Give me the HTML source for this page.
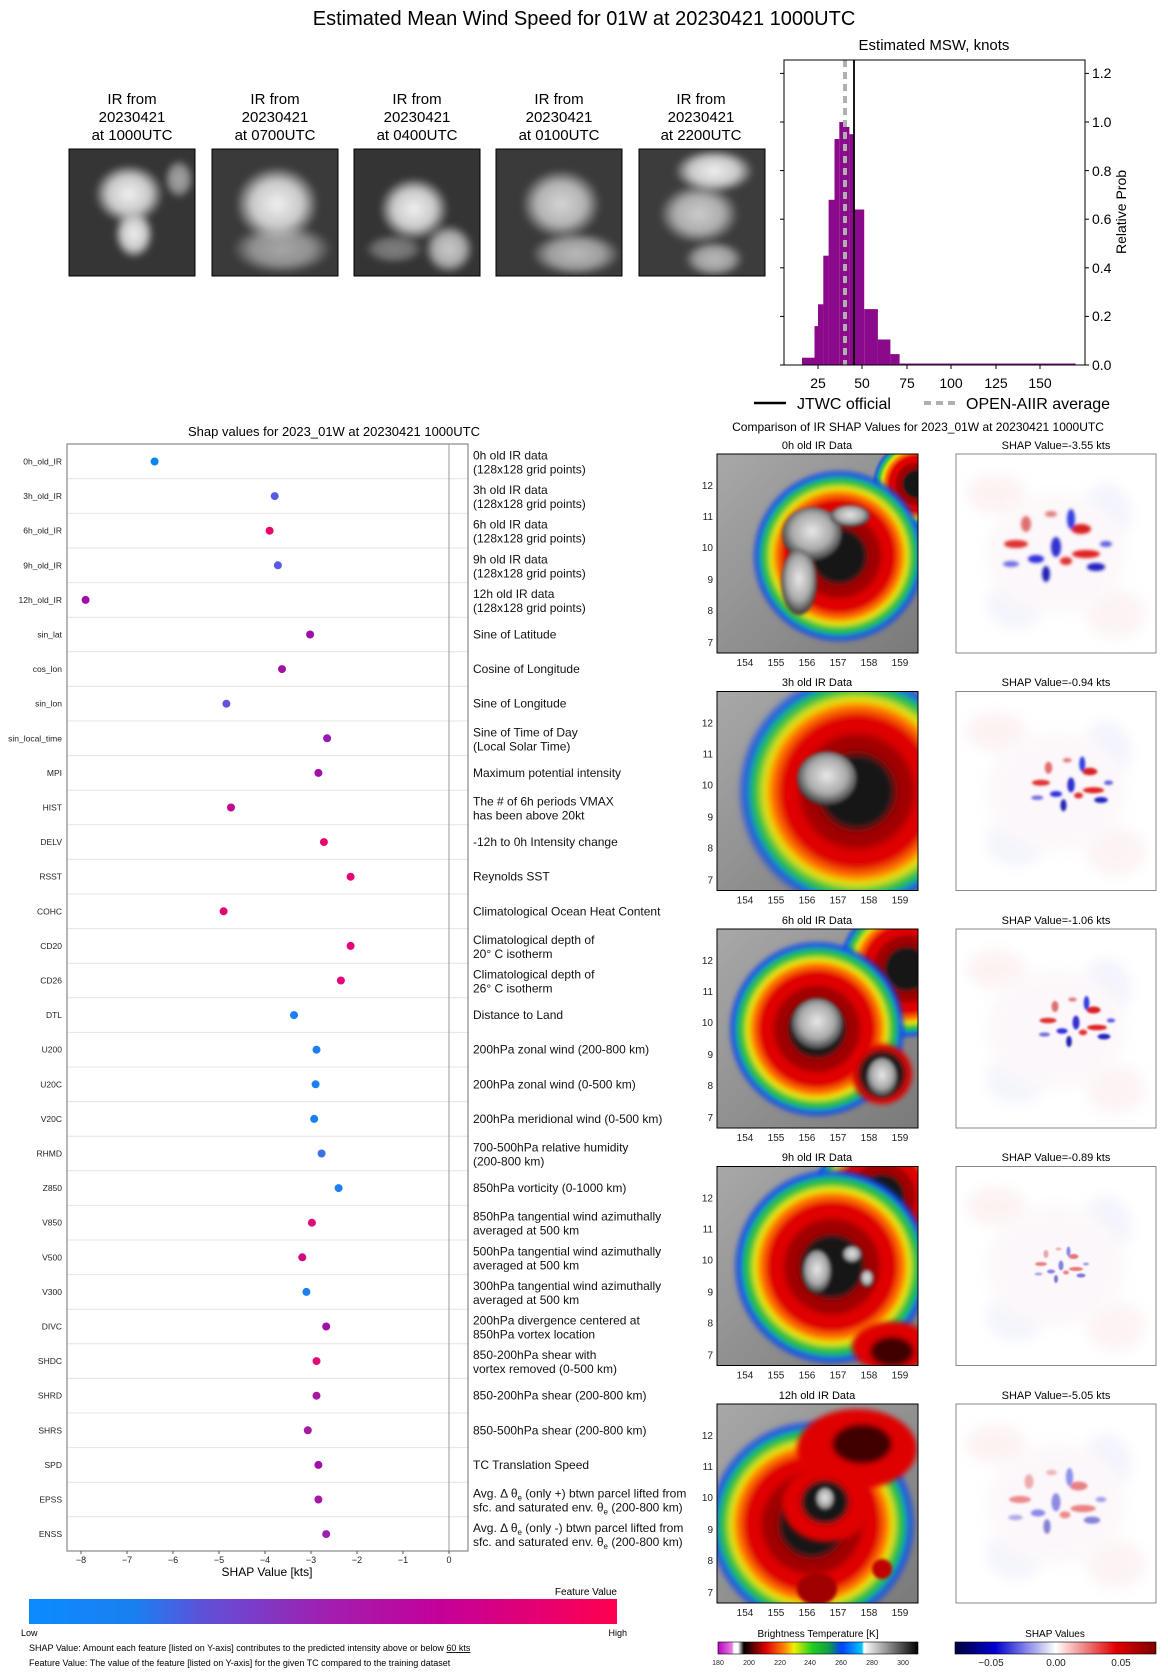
<!DOCTYPE html>
<html><head><meta charset="utf-8"><style>
html,body{margin:0;padding:0;background:#fff}
svg{display:block;font-family:"Liberation Sans","DejaVu Sans",sans-serif}
</style></head><body>
<svg width="1168" height="1674" viewBox="0 0 1168 1674" xmlns="http://www.w3.org/2000/svg">
<defs>
<filter id="b3" x="-20%" y="-20%" width="140%" height="140%"><feGaussianBlur stdDeviation="3"/></filter>
<filter id="b2" x="-20%" y="-20%" width="140%" height="140%"><feGaussianBlur stdDeviation="1.6"/></filter>
<filter id="b6" x="-30%" y="-30%" width="160%" height="160%"><feGaussianBlur stdDeviation="6"/></filter>
<radialGradient id="core" cx="50%" cy="45%" r="55%"><stop offset="0" stop-color="#e8e8e8"/><stop offset="0.6" stop-color="#aaa"/><stop offset="1" stop-color="#333"/></radialGradient>
<linearGradient id="irbg" x1="0" y1="0" x2="1" y2="1"><stop offset="0" stop-color="#a8a8a8"/><stop offset="1" stop-color="#7a7a7a"/></linearGradient>
<radialGradient id="thumbc" cx="50%" cy="50%" r="50%"><stop offset="0" stop-color="#f0f0f0"/><stop offset="0.6" stop-color="#c8c8c8"/><stop offset="1" stop-color="#c8c8c8" stop-opacity="0"/></radialGradient>
<linearGradient id="fcb" x1="0" x2="1"><stop offset="0" stop-color="#0a8cff"/><stop offset="0.18" stop-color="#1a7ff0"/><stop offset="0.3" stop-color="#6050d8"/><stop offset="0.5" stop-color="#a020b0"/><stop offset="0.7" stop-color="#c4009a"/><stop offset="1" stop-color="#ff0050"/></linearGradient>
<linearGradient id="btcb" x1="0" x2="1">
<stop offset="0" stop-color="#c000c0"/><stop offset="0.07" stop-color="#e080e0"/><stop offset="0.08" stop-color="#fff"/><stop offset="0.1" stop-color="#fff"/><stop offset="0.13" stop-color="#000"/><stop offset="0.24" stop-color="#e00000"/><stop offset="0.33" stop-color="#ff8000"/><stop offset="0.38" stop-color="#f0f000"/><stop offset="0.47" stop-color="#20d020"/><stop offset="0.55" stop-color="#10a040"/><stop offset="0.62" stop-color="#0040ff"/><stop offset="0.72" stop-color="#00c8ff"/><stop offset="0.73" stop-color="#fff"/><stop offset="1" stop-color="#000"/></linearGradient>
<linearGradient id="shcb" x1="0" x2="1"><stop offset="0" stop-color="#000040"/><stop offset="0.2" stop-color="#0000d0"/><stop offset="0.5" stop-color="#fff"/><stop offset="0.8" stop-color="#e00000"/><stop offset="1" stop-color="#800000"/></linearGradient>
<g id="ring" filter="url(#b3)">
<circle r="96" fill="#1040f0"/><circle r="90" fill="#20c040"/><circle r="80" fill="#e8e800"/><circle r="74" fill="#ff6a00"/><circle r="66" fill="#e00000"/><circle r="48" fill="#a00000"/><circle r="32" fill="#151515"/>
</g>
<g id="shapblobs" filter="url(#b2)">
<ellipse cx="-40" cy="-5" rx="12" ry="4" fill="#e03030"/><ellipse cx="-20" cy="10" rx="8" ry="4" fill="#3030e0"/><ellipse cx="0" cy="-2" rx="5" ry="10" fill="#3030d0"/><ellipse cx="25" cy="-20" rx="10" ry="5" fill="#d82020"/><ellipse cx="30" cy="5" rx="14" ry="4" fill="#e02020"/><ellipse cx="15" cy="-30" rx="4" ry="10" fill="#3040e0"/><ellipse cx="40" cy="18" rx="9" ry="4" fill="#2020c0"/><ellipse cx="-10" cy="25" rx="4" ry="8" fill="#2020b0"/><ellipse cx="10" cy="12" rx="6" ry="4" fill="#e03030"/><ellipse cx="-30" cy="-25" rx="5" ry="8" fill="#e07070"/><ellipse cx="-45" cy="15" rx="8" ry="3" fill="#7070e0"/><ellipse cx="50" cy="-5" rx="6" ry="3" fill="#6060e0"/><ellipse cx="-5" cy="-35" rx="6" ry="3" fill="#e08080"/>
</g>
<g id="shapbg" opacity="0.15" filter="url(#b6)">
<ellipse cx="40" cy="40" rx="30" ry="20" fill="#f0b0b0"/><ellipse cx="150" cy="60" rx="25" ry="30" fill="#b0b8f0"/><ellipse cx="60" cy="150" rx="30" ry="25" fill="#b8c0f0"/><ellipse cx="160" cy="160" rx="30" ry="25" fill="#f0b8b8"/><ellipse cx="100" cy="100" rx="70" ry="60" fill="#f0d0e0"/>
</g>
<clipPath id="pc"><rect x="0" y="0" width="201" height="199"/></clipPath>
<clipPath id="tc"><rect x="0" y="0" width="126" height="127"/></clipPath>
</defs>

<text x="584" y="25" font-size="20" text-anchor="middle">Estimated Mean Wind Speed for 01W at 20230421 1000UTC</text>

<g font-size="15" text-anchor="middle">
<text x="132" y="104">IR from</text><text x="132" y="122">20230421</text><text x="132" y="140">at 1000UTC</text>
<text x="275" y="104">IR from</text><text x="275" y="122">20230421</text><text x="275" y="140">at 0700UTC</text>
<text x="417" y="104">IR from</text><text x="417" y="122">20230421</text><text x="417" y="140">at 0400UTC</text>
<text x="559" y="104">IR from</text><text x="559" y="122">20230421</text><text x="559" y="140">at 0100UTC</text>
<text x="701" y="104">IR from</text><text x="701" y="122">20230421</text><text x="701" y="140">at 2200UTC</text>
</g>
<g transform="translate(69,149)"><g clip-path="url(#tc)"><rect width="126" height="127" fill="#353535"/><g filter="url(#b3)"><ellipse cx="60" cy="45" rx="35" ry="30" fill="url(#thumbc)"/><ellipse cx="65" cy="85" rx="20" ry="25" fill="url(#thumbc)"/><ellipse cx="110" cy="30" rx="15" ry="20" fill="url(#thumbc)" opacity="0.6"/></g></g><rect width="126" height="127" fill="none" stroke="#000"/></g>
<g transform="translate(212,149)"><g clip-path="url(#tc)"><rect width="126" height="127" fill="#3a3a3a"/><g filter="url(#b3)"><ellipse cx="65" cy="55" rx="42" ry="38" fill="url(#thumbc)"/><ellipse cx="70" cy="100" rx="50" ry="25" fill="url(#thumbc)" opacity="0.6"/></g></g><rect width="126" height="127" fill="none" stroke="#000"/></g>
<g transform="translate(354,149)"><g clip-path="url(#tc)"><rect width="126" height="127" fill="#343434"/><g filter="url(#b3)"><ellipse cx="60" cy="60" rx="35" ry="32" fill="url(#thumbc)"/><ellipse cx="95" cy="100" rx="25" ry="25" fill="url(#thumbc)" opacity="0.8"/><ellipse cx="40" cy="100" rx="30" ry="15" fill="url(#thumbc)" opacity="0.4"/></g></g><rect width="126" height="127" fill="none" stroke="#000"/></g>
<g transform="translate(496,149)"><g clip-path="url(#tc)"><rect width="126" height="127" fill="#3a3a3a"/><g filter="url(#b3)"><ellipse cx="65" cy="55" rx="40" ry="35" fill="url(#thumbc)" opacity="0.85"/><ellipse cx="80" cy="105" rx="45" ry="22" fill="url(#thumbc)" opacity="0.7"/></g></g><rect width="126" height="127" fill="none" stroke="#000"/></g>
<g transform="translate(639,149)"><g clip-path="url(#tc)"><rect width="126" height="127" fill="#3c3c3c"/><g filter="url(#b3)"><ellipse cx="60" cy="65" rx="40" ry="30" fill="url(#thumbc)" opacity="0.8"/><ellipse cx="75" cy="22" rx="40" ry="22" fill="url(#thumbc)"/><ellipse cx="75" cy="110" rx="30" ry="18" fill="url(#thumbc)" opacity="0.7"/></g></g><rect width="126" height="127" fill="none" stroke="#000"/></g>

<text x="934" y="50" font-size="15" text-anchor="middle">Estimated MSW, knots</text>
<g fill="#8b0a8b">
<rect x="802" y="357.7" width="12.6" height="7.3"/>
<rect x="814.5" y="326.1" width="3.6" height="38.9"/>
<rect x="818" y="304.3" width="5.4" height="60.7"/>
<rect x="823.3" y="255.7" width="5.4" height="109.3"/>
<rect x="828.6" y="199.8" width="5.9" height="165.2"/>
<rect x="834.5" y="139" width="4.8" height="226"/>
<rect x="839.3" y="122" width="5.4" height="243"/>
<rect x="844.6" y="126.9" width="4.8" height="238.1"/>
<rect x="849.4" y="134.2" width="4.1" height="230.8"/>
<rect x="853.5" y="209.5" width="10.7" height="155.5"/>
<rect x="864.2" y="309.1" width="13.7" height="55.9"/>
<rect x="877.8" y="339.5" width="12.6" height="25.5"/>
<rect x="890.4" y="354.1" width="9.2" height="10.9"/>
<rect x="899.6" y="363.5" width="176" height="1.5"/>
</g>
<line x1="845" y1="60" x2="845" y2="365" stroke="#b0b0b0" stroke-width="4" stroke-dasharray="7,5"/>
<line x1="854" y1="60" x2="854" y2="365" stroke="#000" stroke-width="1.8"/>
<rect x="784" y="60" width="301" height="305" fill="none" stroke="#000" stroke-width="1"/>
<g stroke="#000">
<line x1="818" y1="365" x2="818" y2="369"/><line x1="862" y1="365" x2="862" y2="369"/><line x1="907" y1="365" x2="907" y2="369"/><line x1="951" y1="365" x2="951" y2="369"/><line x1="996" y1="365" x2="996" y2="369"/><line x1="1040" y1="365" x2="1040" y2="369"/>
<line x1="1085" y1="365" x2="1089" y2="365"/><line x1="1085" y1="316.4" x2="1089" y2="316.4"/><line x1="1085" y1="267.8" x2="1089" y2="267.8"/><line x1="1085" y1="219.2" x2="1089" y2="219.2"/><line x1="1085" y1="170.6" x2="1089" y2="170.6"/><line x1="1085" y1="122" x2="1089" y2="122"/><line x1="1085" y1="73.4" x2="1089" y2="73.4"/>
<line x1="780" y1="365" x2="784" y2="365"/><line x1="780" y1="316.4" x2="784" y2="316.4"/><line x1="780" y1="267.8" x2="784" y2="267.8"/><line x1="780" y1="219.2" x2="784" y2="219.2"/><line x1="780" y1="170.6" x2="784" y2="170.6"/><line x1="780" y1="122" x2="784" y2="122"/><line x1="780" y1="73.4" x2="784" y2="73.4"/>
</g>
<g font-size="14" text-anchor="middle">
<text x="818" y="388">25</text><text x="862" y="388">50</text><text x="907" y="388">75</text><text x="951" y="388">100</text><text x="996" y="388">125</text><text x="1040" y="388">150</text>
</g>
<g font-size="14">
<text x="1092" y="370">0.0</text><text x="1092" y="321">0.2</text><text x="1092" y="273">0.4</text><text x="1092" y="224">0.6</text><text x="1092" y="176">0.8</text><text x="1092" y="127">1.0</text><text x="1092" y="78">1.2</text>
</g>
<text transform="translate(1126,212) rotate(-90)" font-size="14" text-anchor="middle">Relative Prob</text>
<line x1="754" y1="403" x2="786" y2="403" stroke="#000" stroke-width="2.5"/>
<text x="797" y="409" font-size="16">JTWC official</text>
<line x1="924" y1="403" x2="956" y2="403" stroke="#b0b0b0" stroke-width="4" stroke-dasharray="7,5"/>
<text x="966" y="409" font-size="16">OPEN-AIIR average</text>

<text x="334" y="436" font-size="13" text-anchor="middle">Shap values for 2023_01W at 20230421 1000UTC</text>
<g stroke="#e4e4e4" stroke-width="1">
<line x1="67" x2="468" y1="478.8" y2="478.8"/><line x1="67" x2="468" y1="513.4" y2="513.4"/><line x1="67" x2="468" y1="548" y2="548"/><line x1="67" x2="468" y1="582.6" y2="582.6"/><line x1="67" x2="468" y1="617.2" y2="617.2"/><line x1="67" x2="468" y1="651.8" y2="651.8"/><line x1="67" x2="468" y1="686.4" y2="686.4"/><line x1="67" x2="468" y1="721" y2="721"/><line x1="67" x2="468" y1="755.6" y2="755.6"/><line x1="67" x2="468" y1="790.2" y2="790.2"/><line x1="67" x2="468" y1="824.8" y2="824.8"/><line x1="67" x2="468" y1="859.4" y2="859.4"/><line x1="67" x2="468" y1="894" y2="894"/><line x1="67" x2="468" y1="928.6" y2="928.6"/><line x1="67" x2="468" y1="963.2" y2="963.2"/><line x1="67" x2="468" y1="997.8" y2="997.8"/><line x1="67" x2="468" y1="1032.4" y2="1032.4"/><line x1="67" x2="468" y1="1067" y2="1067"/><line x1="67" x2="468" y1="1101.6" y2="1101.6"/><line x1="67" x2="468" y1="1136.2" y2="1136.2"/><line x1="67" x2="468" y1="1170.8" y2="1170.8"/><line x1="67" x2="468" y1="1205.4" y2="1205.4"/><line x1="67" x2="468" y1="1240" y2="1240"/><line x1="67" x2="468" y1="1274.6" y2="1274.6"/><line x1="67" x2="468" y1="1309.2" y2="1309.2"/><line x1="67" x2="468" y1="1343.8" y2="1343.8"/><line x1="67" x2="468" y1="1378.4" y2="1378.4"/><line x1="67" x2="468" y1="1413" y2="1413"/><line x1="67" x2="468" y1="1447.6" y2="1447.6"/><line x1="67" x2="468" y1="1482.2" y2="1482.2"/><line x1="67" x2="468" y1="1516.8" y2="1516.8"/>
</g>
<line x1="449" y1="444" x2="449" y2="1551" stroke="#999" stroke-width="1"/>
<rect x="67" y="444" width="401" height="1107" fill="none" stroke="#888" stroke-width="1.2"/>
<g font-size="8.5" text-anchor="end" fill="#222">
<text x="62" y="464.5">0h_old_IR</text><text x="62" y="499.1">3h_old_IR</text><text x="62" y="533.7">6h_old_IR</text><text x="62" y="568.3">9h_old_IR</text><text x="62" y="602.9">12h_old_IR</text><text x="62" y="637.5">sin_lat</text><text x="62" y="672.1">cos_lon</text><text x="62" y="706.7">sin_lon</text><text x="62" y="741.3">sin_local_time</text><text x="62" y="775.9">MPI</text><text x="62" y="810.5">HIST</text><text x="62" y="845.1">DELV</text><text x="62" y="879.7">RSST</text><text x="62" y="914.3">COHC</text><text x="62" y="948.9">CD20</text><text x="62" y="983.5">CD26</text><text x="62" y="1018.1">DTL</text><text x="62" y="1052.7">U200</text><text x="62" y="1087.3">U20C</text><text x="62" y="1121.9">V20C</text><text x="62" y="1156.5">RHMD</text><text x="62" y="1191.1">Z850</text><text x="62" y="1225.7">V850</text><text x="62" y="1260.3">V500</text><text x="62" y="1294.9">V300</text><text x="62" y="1329.5">DIVC</text><text x="62" y="1364.1">SHDC</text><text x="62" y="1398.7">SHRD</text><text x="62" y="1433.3">SHRS</text><text x="62" y="1467.9">SPD</text><text x="62" y="1502.5">EPSS</text><text x="62" y="1537.1">ENSS</text>
</g>
<g>
<circle cx="154.6" cy="461.5" r="4" fill="#0a84f0"/><circle cx="274.7" cy="496.1" r="4" fill="#5a5ae0"/><circle cx="269.6" cy="530.7" r="4" fill="#e8066a"/><circle cx="277.9" cy="565.3" r="4" fill="#5a5ae0"/><circle cx="85.6" cy="599.9" r="4" fill="#a010a8"/><circle cx="310.1" cy="634.5" r="4" fill="#a010a8"/><circle cx="282" cy="669.1" r="4" fill="#a410a0"/><circle cx="226.4" cy="703.7" r="4" fill="#6a50d8"/><circle cx="327.1" cy="738.3" r="4" fill="#9a18b0"/><circle cx="318.4" cy="772.9" r="4" fill="#a010a8"/><circle cx="231" cy="807.5" r="4" fill="#c00890"/><circle cx="323.9" cy="842.1" r="4" fill="#e0086e"/><circle cx="350.6" cy="876.7" r="4" fill="#e8007a"/><circle cx="223.6" cy="911.3" r="4" fill="#e0086e"/><circle cx="350.6" cy="945.9" r="4" fill="#e8007a"/><circle cx="340.9" cy="980.5" r="4" fill="#e0087a"/><circle cx="294" cy="1015.1" r="4" fill="#1a80f0"/><circle cx="316.5" cy="1049.7" r="4" fill="#1a80f0"/><circle cx="315.6" cy="1084.3" r="4" fill="#1a80f0"/><circle cx="314.2" cy="1118.9" r="4" fill="#1a80f0"/><circle cx="321.6" cy="1153.5" r="4" fill="#3a70e8"/><circle cx="338.6" cy="1188.1" r="4" fill="#1a80f0"/><circle cx="311.9" cy="1222.7" r="4" fill="#e0087a"/><circle cx="302.3" cy="1257.3" r="4" fill="#d00882"/><circle cx="306.4" cy="1291.9" r="4" fill="#1a80f0"/><circle cx="326.2" cy="1326.5" r="4" fill="#a010a8"/><circle cx="316.5" cy="1361.1" r="4" fill="#e0087a"/><circle cx="316.5" cy="1395.7" r="4" fill="#a818a0"/><circle cx="307.8" cy="1430.3" r="4" fill="#a818a0"/><circle cx="318.4" cy="1464.9" r="4" fill="#a010a8"/><circle cx="318.4" cy="1499.5" r="4" fill="#a818a0"/><circle cx="326.2" cy="1534.1" r="4" fill="#9a20b0"/>
</g>
<g font-size="12" fill="#111">
<text x="473" y="459.5">0h old IR data</text><text x="473" y="473.5">(128x128 grid points)</text>
<text x="473" y="494.1">3h old IR data</text><text x="473" y="508.1">(128x128 grid points)</text>
<text x="473" y="528.7">6h old IR data</text><text x="473" y="542.7">(128x128 grid points)</text>
<text x="473" y="563.3">9h old IR data</text><text x="473" y="577.3">(128x128 grid points)</text>
<text x="473" y="597.9">12h old IR data</text><text x="473" y="611.9">(128x128 grid points)</text>
<text x="473" y="638.5">Sine of Latitude</text>
<text x="473" y="673.1">Cosine of Longitude</text>
<text x="473" y="707.7">Sine of Longitude</text>
<text x="473" y="736.3">Sine of Time of Day</text><text x="473" y="750.3">(Local Solar Time)</text>
<text x="473" y="776.9">Maximum potential intensity</text>
<text x="473" y="805.5">The # of 6h periods VMAX</text><text x="473" y="819.5">has been above 20kt</text>
<text x="473" y="846.1">-12h to 0h Intensity change</text>
<text x="473" y="880.7">Reynolds SST</text>
<text x="473" y="915.3">Climatological Ocean Heat Content</text>
<text x="473" y="943.9">Climatological depth of</text><text x="473" y="957.9">20° C isotherm</text>
<text x="473" y="978.5">Climatological depth of</text><text x="473" y="992.5">26° C isotherm</text>
<text x="473" y="1019.1">Distance to Land</text>
<text x="473" y="1053.7">200hPa zonal wind (200-800 km)</text>
<text x="473" y="1088.3">200hPa zonal wind (0-500 km)</text>
<text x="473" y="1122.9">200hPa meridional wind (0-500 km)</text>
<text x="473" y="1151.5">700-500hPa relative humidity</text><text x="473" y="1165.5">(200-800 km)</text>
<text x="473" y="1192.1">850hPa vorticity (0-1000 km)</text>
<text x="473" y="1220.7">850hPa tangential wind azimuthally</text><text x="473" y="1234.7">averaged at 500 km</text>
<text x="473" y="1255.3">500hPa tangential wind azimuthally</text><text x="473" y="1269.3">averaged at 500 km</text>
<text x="473" y="1289.9">300hPa tangential wind azimuthally</text><text x="473" y="1303.9">averaged at 500 km</text>
<text x="473" y="1324.5">200hPa divergence centered at</text><text x="473" y="1338.5">850hPa vortex location</text>
<text x="473" y="1359.1">850-200hPa shear with</text><text x="473" y="1373.1">vortex removed (0-500 km)</text>
<text x="473" y="1399.7">850-200hPa shear (200-800 km)</text>
<text x="473" y="1434.3">850-500hPa shear (200-800 km)</text>
<text x="473" y="1468.9">TC Translation Speed</text>
<text x="473" y="1497.5">Avg. Δ θ<tspan font-size="8" dy="3">e</tspan><tspan dy="-3"> (only +) btwn parcel lifted from</tspan></text><text x="473" y="1511.5">sfc. and saturated env. θ<tspan font-size="8" dy="3">e</tspan><tspan dy="-3"> (200-800 km)</tspan></text>
<text x="473" y="1532.1">Avg. Δ θ<tspan font-size="8" dy="3">e</tspan><tspan dy="-3"> (only -) btwn parcel lifted from</tspan></text><text x="473" y="1546.1">sfc. and saturated env. θ<tspan font-size="8" dy="3">e</tspan><tspan dy="-3"> (200-800 km)</tspan></text>
</g>
<g stroke="#555">
<line x1="81" y1="1551" x2="81" y2="1554"/><line x1="127" y1="1551" x2="127" y2="1554"/><line x1="173" y1="1551" x2="173" y2="1554"/><line x1="219" y1="1551" x2="219" y2="1554"/><line x1="265" y1="1551" x2="265" y2="1554"/><line x1="311" y1="1551" x2="311" y2="1554"/><line x1="357" y1="1551" x2="357" y2="1554"/><line x1="403" y1="1551" x2="403" y2="1554"/><line x1="449" y1="1551" x2="449" y2="1554"/>
</g>
<g font-size="9" text-anchor="middle" fill="#222">
<text x="81" y="1563">−8</text><text x="127" y="1563">−7</text><text x="173" y="1563">−6</text><text x="219" y="1563">−5</text><text x="265" y="1563">−4</text><text x="311" y="1563">−3</text><text x="357" y="1563">−2</text><text x="403" y="1563">−1</text><text x="449" y="1563">0</text>
</g>
<text x="267" y="1576" font-size="12" text-anchor="middle">SHAP Value [kts]</text>
<text x="617" y="1595" font-size="10" text-anchor="end">Feature Value</text>
<rect x="29" y="1599" width="588" height="25" fill="url(#fcb)"/>
<text x="21" y="1636" font-size="9">Low</text>
<text x="627" y="1636" font-size="9" text-anchor="end">High</text>
<text x="29" y="1651" font-size="9">SHAP Value: Amount each feature [listed on Y-axis] contributes to the predicted intensity above or below <tspan text-decoration="underline">60 kts</tspan></text>
<text x="29" y="1666" font-size="9">Feature Value: The value of the feature [listed on Y-axis] for the given TC compared to the training dataset</text>

<text x="918" y="431" font-size="12" text-anchor="middle">Comparison of IR SHAP Values for 2023_01W at 20230421 1000UTC</text>

<!-- 0h -->
<text x="817" y="449" font-size="11" text-anchor="middle">0h old IR Data</text>
<text x="1056" y="449" font-size="11" text-anchor="middle">SHAP Value=-3.55 kts</text>
<g transform="translate(717,454)"><g clip-path="url(#pc)">
<rect width="201" height="199" fill="url(#irbg)"/>
<use href="#ring" transform="translate(200,30) scale(0.45)"/>
<use href="#ring" transform="translate(122,102) scale(0.88)"/>
<g filter="url(#b2)"><ellipse cx="95" cy="80" rx="30" ry="27" fill="url(#core)"/><ellipse cx="82" cy="128" rx="18" ry="33" fill="url(#core)"/><ellipse cx="133" cy="62" rx="20" ry="11" fill="url(#core)"/></g>
</g><rect width="201" height="199" fill="none" stroke="#000"/></g>
<g transform="translate(956,454)"><rect width="200" height="199" fill="#fff"/><g clip-path="url(#pc)"><use href="#shapbg"/><use href="#shapblobs" transform="translate(100,95)"/></g><rect width="200" height="199" fill="none" stroke="#888"/></g>
<!-- 3h -->
<text x="817" y="686" font-size="11" text-anchor="middle">3h old IR Data</text>
<text x="1056" y="686" font-size="11" text-anchor="middle">SHAP Value=-0.94 kts</text>
<g transform="translate(717,691.5)"><g clip-path="url(#pc)">
<rect width="201" height="199" fill="url(#irbg)"/>
<use href="#ring" transform="translate(140,100) scale(1.2)"/>
<g filter="url(#b2)"><ellipse cx="110" cy="87" rx="30" ry="27" fill="url(#core)"/></g>
</g><rect width="201" height="199" fill="none" stroke="#000"/></g>
<g transform="translate(956,691.5)"><rect width="200" height="199" fill="#fff"/><g clip-path="url(#pc)"><use href="#shapbg"/><use href="#shapblobs" transform="translate(115,95) scale(0.75)"/></g><rect width="200" height="199" fill="none" stroke="#888"/></g>
<!-- 6h -->
<text x="817" y="924" font-size="11" text-anchor="middle">6h old IR Data</text>
<text x="1056" y="924" font-size="11" text-anchor="middle">SHAP Value=-1.06 kts</text>
<g transform="translate(717,929)"><g clip-path="url(#pc)">
<rect width="201" height="199" fill="url(#irbg)"/>
<use href="#ring" transform="translate(190,40) scale(0.7)"/>
<use href="#ring" transform="translate(100,100) scale(0.9)"/>
<g filter="url(#b3)"><circle cx="165" cy="145" r="30" fill="#e00000"/><circle cx="165" cy="145" r="24" fill="#151515"/></g>
<g filter="url(#b2)"><ellipse cx="100" cy="95" rx="26" ry="26" fill="url(#core)"/><ellipse cx="165" cy="148" rx="16" ry="20" fill="url(#core)"/></g>
</g><rect width="201" height="199" fill="none" stroke="#000"/></g>
<g transform="translate(956,929)"><rect width="200" height="199" fill="#fff"/><g clip-path="url(#pc)"><use href="#shapbg"/><use href="#shapblobs" transform="translate(120,95) scale(0.7)"/></g><rect width="200" height="199" fill="none" stroke="#888"/></g>
<!-- 9h -->
<text x="817" y="1161" font-size="11" text-anchor="middle">9h old IR Data</text>
<text x="1056" y="1161" font-size="11" text-anchor="middle">SHAP Value=-0.89 kts</text>
<g transform="translate(717,1166.5)"><g clip-path="url(#pc)">
<rect width="201" height="199" fill="url(#irbg)"/>
<use href="#ring" transform="translate(165,30) scale(0.7)"/>
<use href="#ring" transform="translate(115,100) scale(1.0)"/>
<g filter="url(#b3)"><ellipse cx="175" cy="180" rx="40" ry="25" fill="#e00000"/><ellipse cx="175" cy="185" rx="22" ry="15" fill="#400000"/></g>
<g filter="url(#b2)"><ellipse cx="100" cy="105" rx="15" ry="22" fill="url(#core)"/><ellipse cx="135" cy="88" rx="10" ry="9" fill="url(#core)"/><ellipse cx="150" cy="112" rx="7" ry="9" fill="url(#core)"/></g>
</g><rect width="201" height="199" fill="none" stroke="#000"/></g>
<g transform="translate(956,1166.5)"><rect width="200" height="199" fill="#fff"/><g clip-path="url(#pc)"><use href="#shapbg"/><use href="#shapblobs" transform="translate(105,100) scale(0.5)" opacity="0.6"/></g><rect width="200" height="199" fill="none" stroke="#888"/></g>
<!-- 12h -->
<text x="817" y="1399" font-size="11" text-anchor="middle">12h old IR Data</text>
<text x="1056" y="1399" font-size="11" text-anchor="middle">SHAP Value=-5.05 kts</text>
<g transform="translate(717,1404)"><g clip-path="url(#pc)">
<rect width="201" height="199" fill="url(#irbg)"/>
<use href="#ring" transform="translate(95,120) scale(1.05)"/>
<g filter="url(#b3)"><ellipse cx="140" cy="45" rx="60" ry="40" fill="#e00000"/><ellipse cx="145" cy="40" rx="30" ry="20" fill="#400000"/><ellipse cx="110" cy="100" rx="45" ry="38" fill="#e00000"/><ellipse cx="108" cy="98" rx="24" ry="22" fill="#151515"/></g>
<g filter="url(#b2)"><ellipse cx="108" cy="95" rx="10" ry="12" fill="url(#core)"/><ellipse cx="100" cy="185" rx="20" ry="16" fill="#a00000"/><ellipse cx="165" cy="165" rx="10" ry="10" fill="#c00000"/></g>
</g><rect width="201" height="199" fill="none" stroke="#000"/></g>
<g transform="translate(956,1404)"><rect width="200" height="199" fill="#fff"/><g clip-path="url(#pc)"><use href="#shapbg"/><use href="#shapblobs" transform="translate(100,100) scale(0.9)" opacity="0.55"/></g><rect width="200" height="199" fill="none" stroke="#888"/></g>

<g font-size="10" fill="#222" text-anchor="end">
<text x="713" y="489">12</text><text x="713" y="520">11</text><text x="713" y="551">10</text><text x="713" y="583">9</text><text x="713" y="614">8</text><text x="713" y="646">7</text>
<text x="713" y="726.5">12</text><text x="713" y="757.5">11</text><text x="713" y="788.5">10</text><text x="713" y="820.5">9</text><text x="713" y="851.5">8</text><text x="713" y="883.5">7</text>
<text x="713" y="964">12</text><text x="713" y="995">11</text><text x="713" y="1026">10</text><text x="713" y="1058">9</text><text x="713" y="1089">8</text><text x="713" y="1121">7</text>
<text x="713" y="1201.5">12</text><text x="713" y="1232.5">11</text><text x="713" y="1263.5">10</text><text x="713" y="1295.5">9</text><text x="713" y="1326.5">8</text><text x="713" y="1358.5">7</text>
<text x="713" y="1439">12</text><text x="713" y="1470">11</text><text x="713" y="1501">10</text><text x="713" y="1533">9</text><text x="713" y="1564">8</text><text x="713" y="1596">7</text>
</g>
<g font-size="10" fill="#222" text-anchor="middle">
<text x="745" y="666">154</text><text x="776" y="666">155</text><text x="807" y="666">156</text><text x="838" y="666">157</text><text x="869" y="666">158</text><text x="900" y="666">159</text>
<text x="745" y="903.5">154</text><text x="776" y="903.5">155</text><text x="807" y="903.5">156</text><text x="838" y="903.5">157</text><text x="869" y="903.5">158</text><text x="900" y="903.5">159</text>
<text x="745" y="1141">154</text><text x="776" y="1141">155</text><text x="807" y="1141">156</text><text x="838" y="1141">157</text><text x="869" y="1141">158</text><text x="900" y="1141">159</text>
<text x="745" y="1378.5">154</text><text x="776" y="1378.5">155</text><text x="807" y="1378.5">156</text><text x="838" y="1378.5">157</text><text x="869" y="1378.5">158</text><text x="900" y="1378.5">159</text>
<text x="745" y="1616">154</text><text x="776" y="1616">155</text><text x="807" y="1616">156</text><text x="838" y="1616">157</text><text x="869" y="1616">158</text><text x="900" y="1616">159</text>
</g>

<text x="818" y="1637" font-size="10" text-anchor="middle">Brightness Temperature [K]</text>
<rect x="718" y="1642" width="200" height="12" fill="url(#btcb)" stroke="#000" stroke-width="0.6"/>
<g font-size="7" text-anchor="middle" fill="#222">
<text x="718" y="1665">180</text><text x="749" y="1665">200</text><text x="780" y="1665">220</text><text x="810" y="1665">240</text><text x="841" y="1665">260</text><text x="872" y="1665">280</text><text x="903" y="1665">300</text>
</g>
<text x="1055" y="1637" font-size="10" text-anchor="middle">SHAP Values</text>
<rect x="955" y="1642" width="201" height="12" fill="url(#shcb)" stroke="#000" stroke-width="0.6"/>
<g font-size="10" text-anchor="middle" fill="#222">
<text x="991" y="1666">−0.05</text><text x="1056" y="1666">0.00</text><text x="1121" y="1666">0.05</text>
</g>
</svg>
</body></html>
